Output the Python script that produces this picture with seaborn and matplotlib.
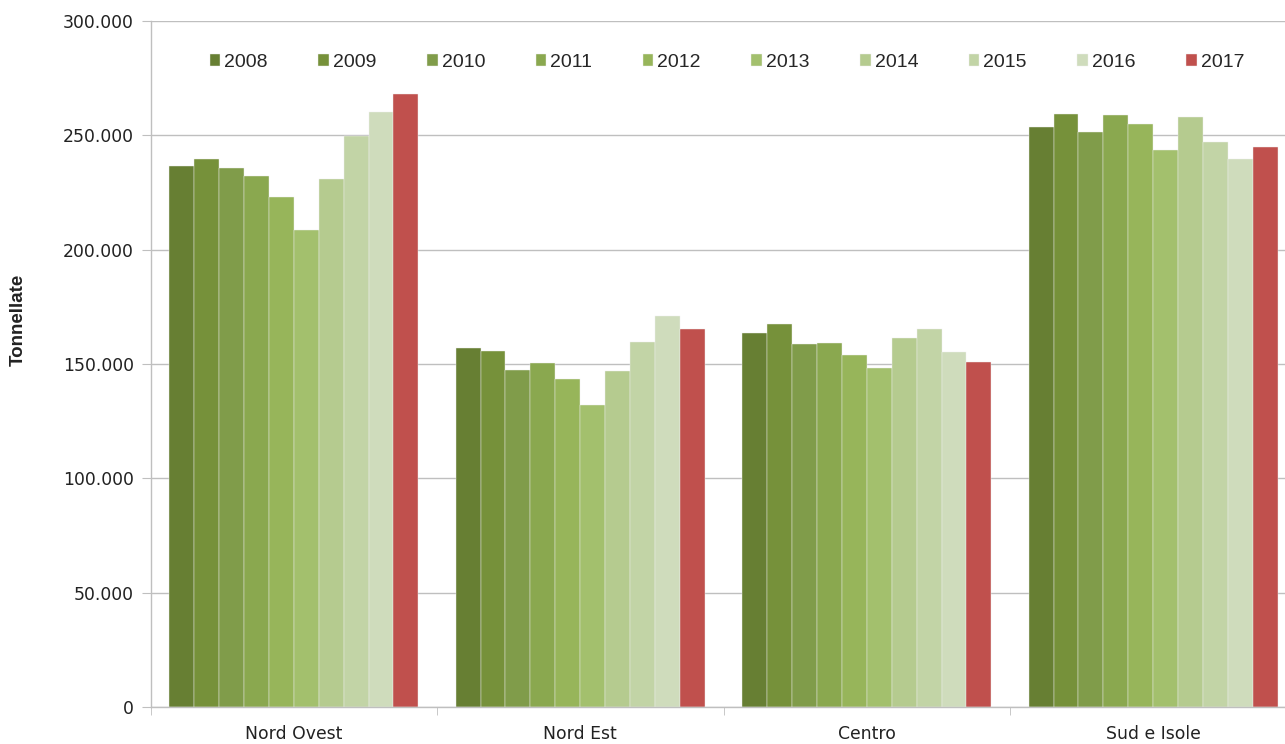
import numpy as np
import pandas as pd
import seaborn as sns
import matplotlib
matplotlib.use("Agg")
import matplotlib.pyplot as plt
from matplotlib.ticker import FuncFormatter, FixedLocator

# values (tonnellate)
regions = ["Nord Ovest", "Nord Est", "Centro", "Sud e Isole"]
years = ["2008", "2009", "2010", "2011", "2012",
         "2013", "2014", "2015", "2016", "2017"]
nord_ovest = [236700, 239800, 235500, 232000, 222900,
              208600, 230800, 249700, 260200, 268100]
nord_est = [157000, 155500, 147500, 150300, 143300,
            131900, 146800, 159800, 171000, 165200]
centro = [163700, 167500, 158700, 159000, 154100,
          148200, 161200, 165200, 155200, 150800]
sud_isole = [253800, 259500, 251600, 258800, 255000,
             243600, 257900, 246900, 239500, 244900]

colors = ["#677f33", "#76913a", "#809c4a", "#8aa84f", "#97b55a",
          "#a3c06d", "#b5cb8f", "#c2d4a6", "#cfdcbc", "#c0504d"]

rows = []
for reg, vals in zip(regions, [nord_ovest, nord_est, centro, sud_isole]):
    for yr, v in zip(years, vals):
        rows.append({"area": reg, "anno": yr, "t": v})
df = pd.DataFrame(rows)

sns.set_style("white")
plt.rcParams["font.family"] = ["Liberation Sans", "DejaVu Sans"]

fig = plt.figure(figsize=(12.85, 7.44), dpi=100)
ax = fig.add_axes([150.5 / 1285, 37 / 744, 1146 / 1285, 686 / 744])

sns.barplot(data=df, x="area", y="t", hue="anno", palette=colors,
            order=regions, hue_order=years, width=0.87, saturation=1,
            edgecolor="#f0f0f0", linewidth=0.3, errorbar=None, ax=ax)

ax.set_xlim(-0.5, 3.5)
ax.set_ylim(0, 300000)
ax.set_yticks(np.arange(0, 300001, 50000))
ax.yaxis.set_major_formatter(
    FuncFormatter(lambda v, p: "{:,.0f}".format(v).replace(",", ".")))
ax.grid(axis="y", color="#bfbfbf", linewidth=1.0)
ax.set_axisbelow(True)

for s in ["top", "right"]:
    ax.spines[s].set_visible(False)
for s in ["left", "bottom"]:
    ax.spines[s].set_color("#bfbfbf")
    ax.spines[s].set_linewidth(1.0)

ax.tick_params(axis="y", direction="out", length=6.5, color="#bfbfbf",
               pad=5.5, left=True)
for lab in ax.get_yticklabels():
    lab.set_fontfamily("DejaVu Sans")
    lab.set_fontsize(12.4)
    lab.set_color("#222222")

ax.xaxis.set_minor_locator(FixedLocator([-0.5, 0.5, 1.5, 2.5, 3.5]))
ax.tick_params(axis="x", which="minor", direction="out", length=6,
               color="#bfbfbf", bottom=True)
ax.tick_params(axis="x", which="major", length=0, pad=13)
for lab in ax.get_xticklabels():
    lab.set_fontfamily("DejaVu Sans")
    lab.set_fontsize(12.4)
    lab.set_color("#222222")

ax.set_xlabel("")
ax.set_ylabel("Tonnellate", fontsize=13.5, fontweight="bold", color="#222222")
ax.yaxis.set_label_coords(-0.108, 0.564)

handles, labels = ax.get_legend_handles_labels()
ax.legend(handles, labels, ncol=10, loc="center", bbox_to_anchor=(0.503, 0.94),
          frameon=False, fontsize=14, handlelength=0.55, handleheight=0.55,
          handletextpad=0.2, columnspacing=2.6)

fig.savefig("out.png", dpi=100)
